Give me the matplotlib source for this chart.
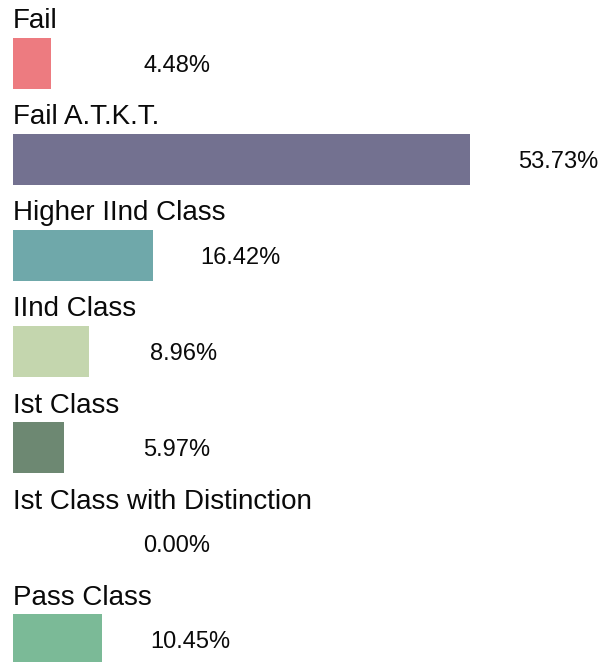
import matplotlib.pyplot as plt

# result categories and share of students (%)
categories = ['Fail', 'Fail A.T.K.T.', 'Higher IInd Class', 'IInd Class',
              'Ist Class', 'Ist Class with Distinction', 'Pass Class']
shares = [4.48, 53.73, 16.42, 8.96, 5.97, 0.00, 10.45]
colors = ['#ED7B80', '#737190', '#6FA8AA', '#C4D6AE', '#6D8872', '#9FC3A8', '#7BBA97']

plt.rcParams['font.family'] = ['Liberation Sans', 'DejaVu Sans']

W, H = 602, 662
fig = plt.figure(figsize=(W / 100, H / 100), dpi=100)
ax = fig.add_axes([0, 0, 1, 1])

px = 457 / 53.73          # pixels per percent
row = 96                  # pixels per row
ax.set_xlim(-13 / px, (W - 13) / px)
ax.set_ylim((H - 63.5) / row, -63.5 / row)
ax.axis('off')

bar_h = 51 / row
for i, (cat, val, col) in enumerate(zip(categories, shares, colors)):
    ax.barh(i, val, height=bar_h, color=col, left=0)
    ax.text(0, i - bar_h / 2 - 9.5 / row, cat, fontsize=20,
            ha='left', va='baseline', color='#0a0a0a')
    xr = max(val + 128 / px, (210 - 13) / px)
    ax.text(xr, i + 2.5 / row, f'{val:.2f}%', fontsize=17, ha='right',
            va='center', color='#0a0a0a')

fig.savefig('out.png', dpi=100)
